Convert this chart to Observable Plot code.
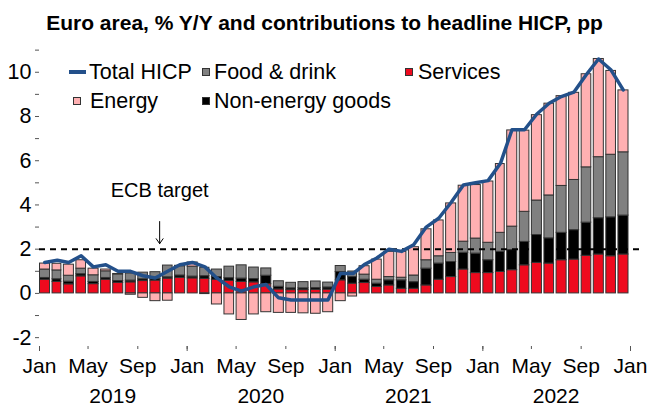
<!DOCTYPE html>
<html>
<head>
<meta charset="utf-8">
<script src="https://cdn.jsdelivr.net/npm/d3@7"></script>
<script src="https://cdn.jsdelivr.net/npm/@observablehq/plot@0.6"></script>
<style>
  body { margin: 0; background: #fff; }
  #wrap { position: relative; width: 649px; height: 405px; font-family: "Liberation Sans", Arial, sans-serif; color: #000; }
  #title { position: absolute; left: 0; top: 11px; width: 649px; text-align: center; font-weight: bold; font-size: 21px; white-space: nowrap; }
  #chart { position: absolute; left: 0; top: 38px; }
  .lg { position: absolute; font-size: 21.5px; line-height: 24px; white-space: nowrap; }
  .sw { position: absolute; width: 6px; height: 6px; border: 1px solid #333; }
  .ln { position: absolute; width: 17px; height: 4px; background: #23508a; }
</style>
</head>
<body>
<div id="wrap">
  <div id="title">Euro area, % Y/Y and contributions to headline HICP, pp</div>
  <div id="chart"></div>
  <div id="legend"></div>
</div>
<script>
// ---- Data ----
const startMonth = "2019-01";
const seriesNames = ["Services", "Non-energy goods", "Food & drink", "Energy"];
const seriesColors = ["#ee0a1e", "#000000", "#808080", "#ffb0b2"];

const services = [
  0.62, 0.52, 0.41, 0.77, 0.42, 0.62, 0.48, 0.50, 0.56, 0.58, 0.67, 0.71,
  0.68, 0.66, 0.62, 0.57, 0.52, 0.50, 0.42, 0.18, 0.15, 0.15, 0.16, 0.17,
  0.59, 0.44, 0.47, 0.29, 0.36, 0.21, 0.21, 0.36, 0.62, 0.74, 1.08, 0.92,
  0.92, 0.97, 1.05, 1.27, 1.38, 1.35, 1.50, 1.53, 1.70, 1.76, 1.68, 1.76
];
const nonEnergyGoods = [
  0.08, 0.12, 0.12, 0.10, 0.10, 0.08, 0.08, 0.08, 0.08, 0.08, 0.06, 0.10,
  0.08, 0.12, 0.12, 0.12, 0.15, 0.15, 0.38, 0.12, 0.08, 0.08, 0.08, 0.10,
  0.38, 0.30, 0.15, 0.15, 0.23, 0.38, 0.30, 0.76, 0.73, 0.68, 0.76, 0.88,
  0.58, 0.91, 0.91, 1.06, 1.26, 1.14, 1.24, 1.33, 1.50, 1.64, 1.76, 1.76
];
const foodDrink = [
  0.38, 0.40, 0.27, 0.25, 0.30, 0.30, 0.30, 0.32, 0.30, 0.30, 0.53, 0.42,
  0.45, 0.38, 0.34, 0.52, 0.60, 0.52, 0.33, 0.25, 0.25, 0.28, 0.30, 0.22,
  0.27, 0.25, 0.23, 0.18, 0.15, 0.12, 0.30, 0.38, 0.33, 0.41, 0.50, 0.68,
  0.79, 0.86, 1.06, 1.36, 1.56, 1.94, 2.12, 2.27, 2.50, 2.76, 2.83, 2.86
];
const energy = [
  0.27, 0.30, 0.50, 0.38, 0.30, 0.08, 0.02, -0.06, -0.20, -0.35, -0.33, 0.02,
  0.19, -0.03, -0.50, -0.95, -1.20, -0.95, -0.85, -0.88, -0.88, -0.90, -0.92, -0.85,
  -0.35, -0.14, 0.38, 0.91, 1.14, 1.17, 1.28, 1.40, 1.62, 2.24, 2.53, 2.42,
  2.77, 3.11, 4.35, 3.67, 3.86, 4.15, 4.06, 3.94, 4.21, 4.44, 3.79, 2.80
];
const totalHICP = [
  1.4, 1.5, 1.4, 1.7, 1.2, 1.3, 1.0, 1.0, 0.8, 0.7, 1.0, 1.3,
  1.4, 1.2, 0.7, 0.3, 0.1, 0.3, 0.4, -0.2, -0.3, -0.3, -0.3, -0.3,
  0.9, 0.9, 1.3, 1.6, 2.0, 1.9, 2.2, 3.0, 3.4, 4.1, 4.9, 5.0,
  5.1, 5.9, 7.4, 7.4, 8.1, 8.6, 8.9, 9.1, 9.9, 10.6, 10.1, 9.2
];
const years = [2019, 2020, 2021, 2022];
const ecbTarget = 2;
const annotationLabel = "ECB target";
const legendItems = ["Total HICP", "Food & drink", "Services", "Energy", "Non-energy goods"];

// ---- Build tables ----
const t0 = d3.utcParse("%Y-%m")(startMonth);
const months = d3.utcMonth.range(t0, d3.utcMonth.offset(t0, totalHICP.length));
const seriesValues = [services, nonEnergyGoods, foodDrink, energy];
const stacked = [];
months.forEach((m, i) => {
  seriesNames.forEach((s, k) => stacked.push({date: m, series: s, value: seriesValues[k][i]}));
});
const lineData = months.map((m, i) => ({date: d3.utcDay.offset(m, 13), value: totalHICP[i]}));
const xTicks = d3.utcMonth.every(4).range(t0, d3.utcMonth.offset(t0, 49));
const janTicks = d3.utcYear.range(t0, d3.utcMonth.offset(t0, 49));
const yearLabels = years.map(y => ({date: new Date(Date.UTC(y, 6, 1)), label: String(y)}));
const annDate = new Date(Date.UTC(2019, 9, 25));

const chart = Plot.plot({
  width: 649,
  height: 367,
  marginLeft: 39,
  marginRight: 19,
  marginTop: 5,
  marginBottom: 59,
  style: {fontFamily: "'Liberation Sans', Arial, sans-serif", fontSize: "21px", color: "#000", background: "#fff"},
  x: {type: "utc", domain: [t0, d3.utcMonth.offset(t0, 48)]},
  y: {domain: [-2.4, 11.3]},
  color: {domain: seriesNames, range: seriesColors},
  marks: [
    Plot.axisY({ticks: d3.range(-2, 12), tickSize: 4, tickPadding: 4, tickFormat: d => (d % 2 === 0 ? String(d) : ""), label: null, stroke: "#555", fontSize: 21.5}),
    Plot.axisX({ticks: xTicks, tickSize: 3, tickPadding: 9, tickFormat: d3.utcFormat("%b"), label: null, stroke: "#555"}),
    Plot.axisX({ticks: janTicks, tickSize: 5, tickFormat: () => "", label: null, stroke: "#555"}),
    Plot.text(yearLabels, {x: "date", text: "label", frameAnchor: "bottom", dy: 56, fontSize: 21}),
    Plot.rectY(stacked, {x: "date", interval: "month", y: "value", fill: "series", stroke: "#333", strokeWidth: 1, insetLeft: 0.5, insetRight: 2}),
    Plot.ruleY([ecbTarget], {stroke: "#000", strokeWidth: 2, strokeDasharray: "6,5", insetRight: -12}),
    Plot.lineY(lineData, {x: "date", y: "value", stroke: "#23508a", strokeWidth: 3.5, strokeLinejoin: "round"}),
    Plot.text([annotationLabel], {x: annDate, y: 4.65, text: d => d, fontSize: 20}),
    Plot.arrow([0], {x1: annDate, x2: annDate, y1: 3.25, y2: 2.25, stroke: "#000", strokeWidth: 1, headLength: 9, headAngle: 70})
  ]
});
document.getElementById("chart").appendChild(chart);

// ---- Legend (HTML) ----
const lg = document.getElementById("legend");
const legendLayout = [
  {name: legendItems[0], kind: "line", color: "#23508a", sx: 69, tx: 89, cy: 72},
  {name: legendItems[1], kind: "box", color: seriesColors[2], sx: 202, tx: 214, cy: 72},
  {name: legendItems[2], kind: "box", color: seriesColors[0], sx: 405, tx: 418, cy: 72},
  {name: legendItems[3], kind: "box", color: seriesColors[3], sx: 73, tx: 90, cy: 101},
  {name: legendItems[4], kind: "box", color: seriesColors[1], sx: 202, tx: 214, cy: 101}
];
legendLayout.forEach(it => {
  const sw = document.createElement("div");
  if (it.kind === "line") {
    sw.className = "ln";
    sw.style.left = it.sx + "px";
    sw.style.top = (it.cy - 2) + "px";
  } else {
    sw.className = "sw";
    sw.style.left = it.sx + "px";
    sw.style.top = (it.cy - 4) + "px";
    sw.style.background = it.color;
  }
  lg.appendChild(sw);
  const t = document.createElement("div");
  t.className = "lg";
  t.textContent = it.name;
  t.style.left = it.tx + "px";
  t.style.top = (it.cy - 12) + "px";
  lg.appendChild(t);
});
</script>
</body>
</html>
